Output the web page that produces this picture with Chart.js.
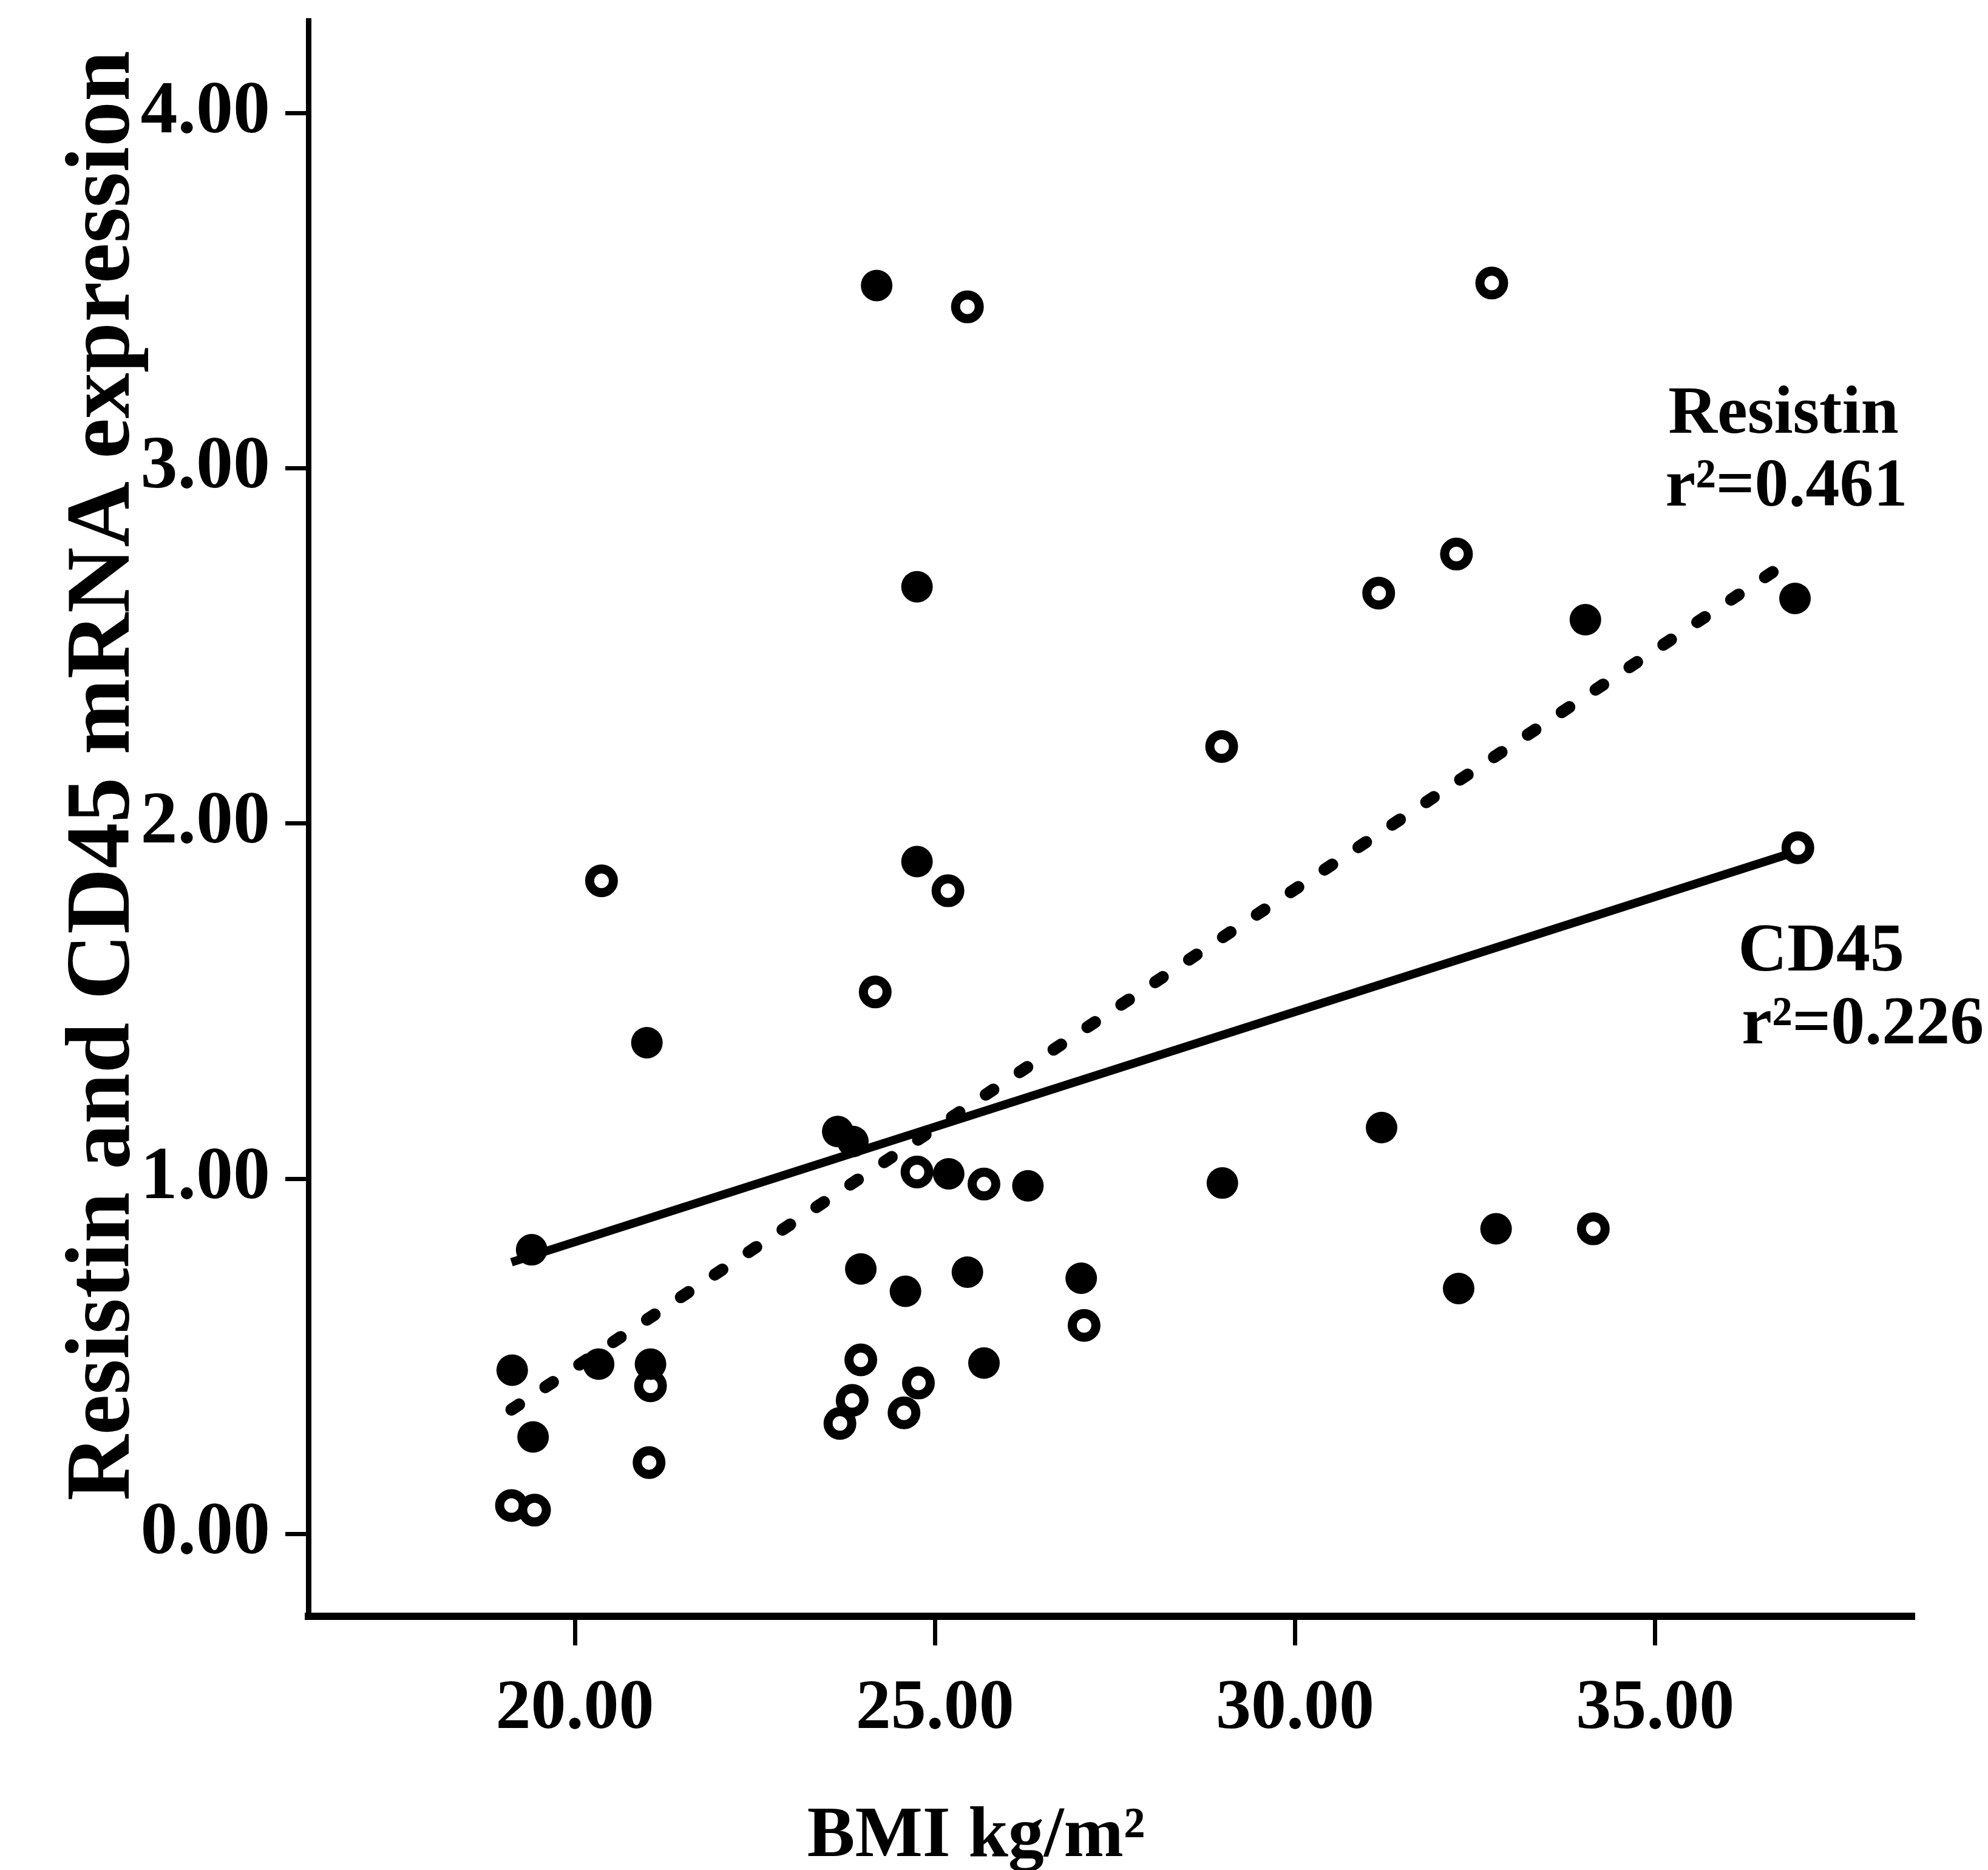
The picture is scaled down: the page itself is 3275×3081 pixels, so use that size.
<!DOCTYPE html>
<html>
<head>
<meta charset="utf-8">
<script src="https://cdn.jsdelivr.net/npm/chart.js@4.4.0/dist/chart.umd.min.js"></script>
<style>
  html, body { margin: 0; padding: 0; background: #fff; }
  canvas { display: block; }
</style>
</head>
<body>
<canvas id="myChart" width="3275" height="3081"></canvas>
<script>
// values (BMI kg/m2 vs relative mRNA expression)
var resistinBmi  = [25.45, 32.73, 32.24, 31.16, 28.98, 20.37, 25.18, 24.17, 36.98, 24.75, 25.68,
                    34.14, 27.07, 21.05, 23.97, 23.85, 23.68, 24.77, 24.57, 21.03, 19.12, 19.44];
var resistinExpr = [3.455, 3.522, 2.759, 2.649, 2.217, 1.839, 1.811, 1.526, 1.932, 1.019, 0.985,
                    0.859, 0.587, 0.417, 0.490, 0.376, 0.311, 0.425, 0.341, 0.201, 0.080, 0.067];

var cd45Bmi  = [24.19, 24.75, 24.75, 21.00, 23.65, 23.86, 25.19, 26.29, 28.99, 31.20, 19.40, 23.97,
                24.59, 25.45, 27.03, 32.79, 32.27, 19.13, 20.33, 21.05, 25.68, 19.42, 34.03, 36.94];
var cd45Expr = [3.515, 2.667, 1.893, 1.383, 1.133, 1.105, 1.014, 0.980, 0.988, 1.144, 0.800, 0.746,
                0.683, 0.737, 0.720, 0.859, 0.691, 0.461, 0.478, 0.478, 0.481, 0.273, 2.574, 2.634];

// fitted lines, end points
var resistinFitBmi  = [19.12, 36.94];
var resistinFitExpr = [0.35, 2.75];
var cd45FitBmi  = [19.12, 36.94];
var cd45FitExpr = [0.765, 1.92];

var xTicks = [20, 25, 30, 35];
var yTicks = [0, 1, 2, 3, 4];

var notes = [
  { text: 'Resistin', x: 35.18, y: 3.10 },
  { text: 'r\u00b2=0.461', x: 35.14, y: 2.895 },
  { text: 'CD45', x: 36.15, y: 1.586 },
  { text: 'r\u00b2=0.226', x: 36.20, y: 1.382 }
];

var SERIF = '"Liberation Serif", "Times New Roman", serif';

function toPoints(xs, ys) {
  return xs.map(function (x, i) { return { x: x, y: ys[i] }; });
}

var figureText = {
  id: 'figureText',
  afterDraw: function (chart) {
    var ctx = chart.ctx;
    var sx = chart.scales.x, sy = chart.scales.y;
    ctx.save();
    ctx.fillStyle = '#000';
    ctx.textAlign = 'left';
    ctx.textBaseline = 'alphabetic';
    ctx.font = 'bold 112px ' + SERIF;
    notes.forEach(function (n) {
      ctx.fillText(n.text, sx.getPixelForValue(n.x), sy.getPixelForValue(n.y));
    });

    // axis titles
    ctx.textAlign = 'center';
    ctx.font = 'bold 118px ' + SERIF;
    ctx.fillText('BMI kg/m\u00b2', 1608, 3058);

    ctx.translate(212, 1278);
    ctx.rotate(-Math.PI / 2);
    ctx.font = 'bold 150px ' + SERIF;
    ctx.fillText('Resistin and CD45 mRNA expression', 0, 0);
    ctx.restore();
  }
};

var ctx = document.getElementById('myChart').getContext('2d');
var myChart = new Chart(ctx, {
  type: 'scatter',
  data: {
    datasets: [{
      label: 'CD45',
      data: toPoints(cd45Bmi, cd45Expr),
      backgroundColor: '#000',
      borderWidth: 0,
      pointRadius: 26
    }, {
      label: 'Resistin',
      data: toPoints(resistinBmi, resistinExpr),
      backgroundColor: '#fff',
      borderColor: '#000',
      borderWidth: 15,
      pointRadius: 19.5
    }, {
      type: 'line',
      label: 'CD45 fit',
      data: toPoints(cd45FitBmi, cd45FitExpr),
      borderColor: '#000',
      borderWidth: 14,
      pointRadius: 0,
      fill: false
    }, {
      type: 'line',
      label: 'Resistin fit',
      data: toPoints(resistinFitBmi, resistinFitExpr),
      borderColor: '#000',
      borderWidth: 20,
      borderDash: [15, 52],
      borderCapStyle: 'round',
      pointRadius: 0,
      fill: false
    }]
  },
  options: {
    responsive: false,
    animation: false,
    devicePixelRatio: 1,
    layout: { padding: { top: 31, right: 121, left: 0, bottom: 0 } },
    plugins: {
      legend: { display: false },
      tooltip: { enabled: false }
    },
    scales: {
      x: {
        type: 'linear',
        min: 16.3,
        max: 38.6,
        afterFit: function (s) { s.height = 418; s.paddingLeft = 0; s.paddingRight = 0; },
        afterBuildTicks: function (s) { s.ticks = xTicks.map(function (v) { return { value: v }; }); },
        ticks: {
          color: '#000',
          padding: 36,
          maxRotation: 0,
          font: { family: SERIF, size: 116, weight: 'bold' },
          callback: function (v) { return v.toFixed(2); }
        },
        grid: { drawOnChartArea: false, drawTicks: true, tickLength: 48, tickWidth: 7, tickColor: '#000' },
        border: { display: true, color: '#000', width: 12 }
      },
      y: {
        min: -0.232,
        max: 4.26,
        afterFit: function (s) { s.width = 508; s.paddingTop = 0; s.paddingBottom = 0; },
        afterBuildTicks: function (s) { s.ticks = yTicks.map(function (v) { return { value: v }; }); },
        ticks: {
          color: '#000',
          padding: 25,
          font: { family: SERIF, size: 122, weight: 'bold' },
          callback: function (v) { return v.toFixed(2); }
        },
        grid: { drawOnChartArea: false, drawTicks: true, tickLength: 38, tickWidth: 7, tickColor: '#000' },
        border: { display: true, color: '#000', width: 9 }
      }
    }
  },
  plugins: [figureText]
});
</script>
</body>
</html>
